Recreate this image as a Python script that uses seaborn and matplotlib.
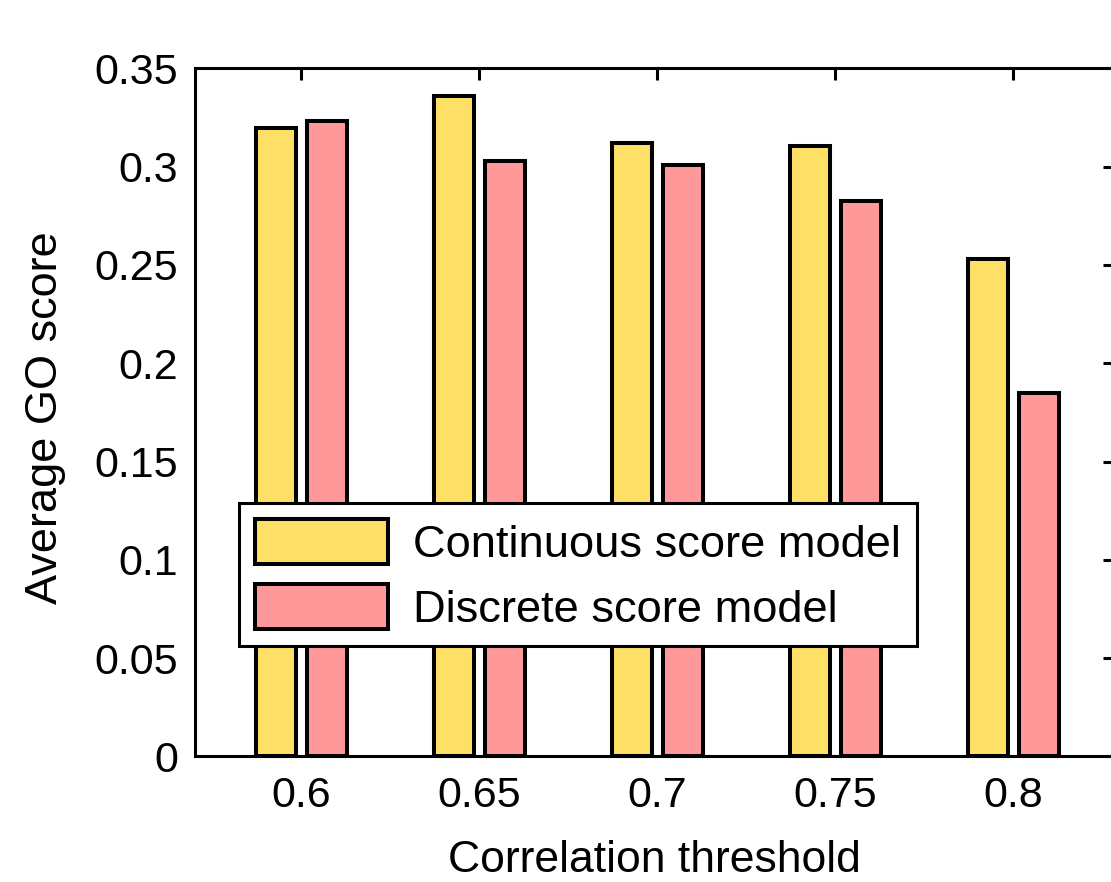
import matplotlib
matplotlib.use("Agg")
import matplotlib.pyplot as plt
from matplotlib.patches import Patch
import pandas as pd
import seaborn as sns

# values
thresholds = ["0.6", "0.65", "0.7", "0.75", "0.8"]
continuous = [0.3195, 0.3359, 0.3120, 0.3105, 0.2528]
discrete = [0.3232, 0.3027, 0.3006, 0.2823, 0.1847]
models = ["Continuous score model", "Discrete score model"]
yticks = [0, 0.05, 0.1, 0.15, 0.2, 0.25, 0.3, 0.35]

yellow = "#FFE066"
pink = "#FF9999"

df = pd.DataFrame({
    "threshold": thresholds * 2,
    "score": continuous + discrete,
    "model": [models[0]] * len(thresholds) + [models[1]] * len(thresholds),
})

sns.set_style("white")
plt.rcParams["font.family"] = ["Liberation Sans", "DejaVu Sans"]

fig = plt.figure(figsize=(11.11, 8.82), dpi=100)
# axes run slightly past the right edge of the figure, like the reference
ax = fig.add_axes([194.5 / 1111, (882 - 756.4) / 882, 920.5 / 1111, 688.1 / 882])

sns.barplot(data=df, x="threshold", y="score", hue="model",
            order=thresholds, hue_order=models, palette=[yellow, pink],
            width=0.573, gap=0.227, saturation=1, errorbar=None,
            edgecolor="black", linewidth=2.9, legend=False, ax=ax)

ax.set_xlim(-0.601, 4.571)
ax.set_ylim(0, 0.35)
ax.set_yticks(yticks)
ax.set_yticklabels(["%g" % t for t in yticks])
ax.set_axisbelow(False)

ax.tick_params(direction="in", length=8.6, width=2.2, top=True, right=True,
               labelsize=31, pad=12, color="black", labelcolor="black")
ax.tick_params(axis="x", pad=14)
for s in ax.spines.values():
    s.set_visible(True)
    s.set_linewidth(2.2)
    s.set_color("black")
    s.set_zorder(5)

ax.set_xlabel("Correlation threshold", fontsize=32, color="black")
ax.set_ylabel("Average GO score", fontsize=32.5, color="black")
ax.xaxis.label.set_verticalalignment("center")
ax.yaxis.label.set_verticalalignment("center")
ax.xaxis.set_label_coords(0.5, -0.1506)
ax.yaxis.set_label_coords(-0.162, 0.492)

handles = [Patch(facecolor=yellow, edgecolor="black", linewidth=2.9),
           Patch(facecolor=pink, edgecolor="black", linewidth=2.9)]
leg = ax.legend(handles, models, loc="upper left",
                bbox_to_anchor=(239 / 1111, 1 - 503 / 882),
                bbox_transform=fig.transFigure, fontsize=32.6,
                handlelength=2.95, handleheight=1.15, handletextpad=0.55,
                labelspacing=0.4, borderpad=0.35, borderaxespad=0,
                fancybox=False, framealpha=1, edgecolor="black")
leg.get_frame().set_linewidth(2.2)
leg.set_zorder(10)
for t in leg.get_texts():
    t.set_color("black")

fig.savefig("out.png", dpi=100)
